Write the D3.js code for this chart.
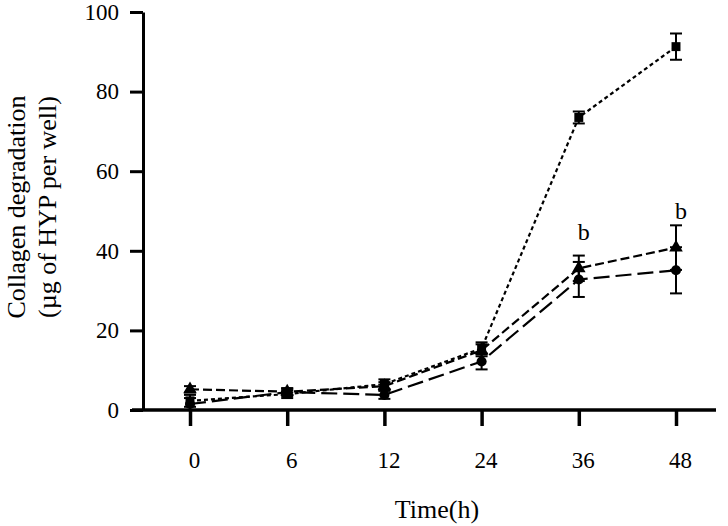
<!DOCTYPE html>
<html>
<head>
<meta charset="utf-8">
<script src="https://cdn.jsdelivr.net/npm/d3@7"></script>
<style>
  body { margin: 0; background: #fff; }
  text { font-family: "Liberation Serif", "DejaVu Serif", serif; fill: #000; }
</style>
</head>
<body>
<div class="playground"></div>
<script>
var times = ["0", "6", "12", "24", "36", "48"];
var yTicks = [0, 20, 40, 60, 80, 100];

// three treatment groups
var seriesA = [2.3, 4.0, 6.5, 15.5, 73.5, 91.3];
var errA    = [1.5, 1.0, 1.2, 1.5, 1.5, 3.3];
var seriesB = [5.2, 4.6, 6.0, 15.0, 35.6, 40.8];
var errB    = [0.8, 0.8, 1.0, 1.5, 3.2, 5.6];
var seriesC = [1.5, 4.5, 3.8, 12.2, 32.8, 35.1];
var errC    = [1.5, 1.0, 1.0, 2.0, 4.4, 5.8];

var letters = [{"t": "36", "v": 42.8, "txt": "b"}, {"t": "48", "v": 48, "txt": "b"}];

var groups = [
  {"vals": seriesA, "err": errA, "dash": "4,3", "shape": d3.symbolSquare},
  {"vals": seriesB, "err": errB, "dash": "9,4", "shape": d3.symbolTriangle},
  {"vals": seriesC, "err": errC, "dash": "16,6", "shape": d3.symbolCircle}
];

var svg = d3.select('body')
.select('.playground')
.append('svg')
.attr('width', 728)
.attr('height', 526);

var x = d3.scalePoint().domain(times).range([190, 676]);
var y = d3.scaleLinear().domain([0, 100]).range([410, 12]);

//axes
var yAxis = svg.append('g')
.attr('transform', 'translate(143,0)')
.call(d3.axisLeft(y).tickValues(yTicks).tickSize(13).tickPadding(11).tickSizeOuter(0));

var xAxis = svg.append('g')
.attr('transform', 'translate(0,410)')
.call(d3.axisBottom(x).tickSize(16).tickPadding(26).tickSizeOuter(0));

yAxis.select('.domain').attr('stroke-width', 3);
yAxis.selectAll('.tick line').attr('stroke-width', 3);
yAxis.selectAll('.tick text').style('font-size', '23px');

xAxis.select('.domain').attr('d', 'M132,0H716').attr('stroke-width', 3.5);
xAxis.selectAll('.tick line').attr('stroke-width', 3.5);
xAxis.selectAll('.tick text').style('font-size', '23px').attr('dx', 4);

//axis titles
svg.append('text')
.attr('x', 437)
.attr('y', 518)
.attr('text-anchor', 'middle')
.style('font-size', '26px')
.text('Time(h)');

var yt = svg.append('text')
.attr('transform', 'translate(25,207) rotate(-90)')
.attr('text-anchor', 'middle')
.style('font-size', '26px');
yt.append('tspan').attr('x', 0).attr('y', 0).text('Collagen degradation');
yt.append('tspan').attr('x', 0).attr('y', 31).text('(\u00b5g of HYP per well)');

//lines, error bars, markers
var line = d3.line()
.x(function(d, i){return x(times[i]);})
.y(function(d){return y(d);});

groups.forEach(function(g){
  svg.append('path')
  .attr('d', line(g.vals))
  .attr('fill', 'none')
  .attr('stroke', '#000')
  .attr('stroke-width', 2.2)
  .attr('stroke-dasharray', g.dash);

  var eb = svg.append('g').attr('stroke', '#000').attr('stroke-width', 2);
  g.vals.forEach(function(v, i){
    var cx = x(times[i]);
    eb.append('line').attr('x1', cx).attr('x2', cx).attr('y1', y(v - g.err[i])).attr('y2', y(v + g.err[i]));
    eb.append('line').attr('x1', cx - 6).attr('x2', cx + 6).attr('y1', y(v - g.err[i])).attr('y2', y(v - g.err[i]));
    eb.append('line').attr('x1', cx - 6).attr('x2', cx + 6).attr('y1', y(v + g.err[i])).attr('y2', y(v + g.err[i]));
  });

  svg.selectAll(null)
  .data(g.vals)
  .enter()
  .append('path')
  .attr('d', d3.symbol().type(g.shape).size(80))
  .attr('transform', function(d, i){return 'translate(' + x(times[i]) + ',' + y(d) + ')';})
  .attr('fill', '#000');
});

svg.selectAll('.sig')
.data(letters)
.enter()
.append('text')
.attr('class', 'sig')
.attr('x', function(d){return x(d.t) + 5;})
.attr('y', function(d){return y(d.v);})
.attr('text-anchor', 'middle')
.style('font-size', '24px')
.text(function(d){return d.txt;});
</script>
</body>
</html>
